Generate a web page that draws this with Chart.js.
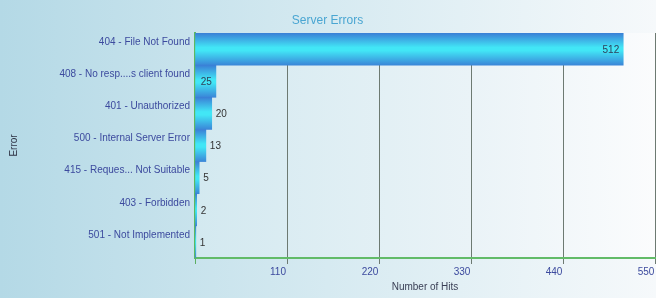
<!DOCTYPE html>
<html>
<head>
<meta charset="utf-8">
<script src="https://cdn.jsdelivr.net/npm/chart.js@4"></script>
<style>
html,body{margin:0;padding:0;background:#fff;}
#wrap{width:656px;height:298px;}
</style>
</head>
<body>
<div id="wrap"><canvas id="c" width="656" height="298"></canvas></div>
<script>
const categories = [
  "404 - File Not Found",
  "408 - No resp....s client found",
  "401 - Unauthorized",
  "500 - Internal Server Error",
  "415 - Reques... Not Suitable",
  "403 - Forbidden",
  "501 - Not Implemented"
];
const hits = [512, 25, 20, 13, 5, 2, 1];
const xTicks = [0, 110, 220, 330, 440, 550];

const FONT = "'Liberation Sans', Arial, sans-serif";

const bgPlugin = {
  id: 'bg',
  beforeDraw(chart) {
    const ctx = chart.ctx, w = chart.width, h = chart.height, a = chart.chartArea;
    ctx.save();
    let g = ctx.createLinearGradient(0, 0, w, 0);
    g.addColorStop(0, '#b4d9e6');
    g.addColorStop(0.5, '#d6eaf1');
    g.addColorStop(1, '#f6f9fb');
    ctx.fillStyle = g;
    ctx.fillRect(0, 0, w, h);
    g = ctx.createLinearGradient(a.left, 0, a.right, 0);
    g.addColorStop(0, '#d3e9f0');
    g.addColorStop(0.6, '#eaf3f7');
    g.addColorStop(1, '#fbfcfd');
    ctx.fillStyle = g;
    ctx.fillRect(a.left, a.top, a.right - a.left, a.bottom - a.top);
    ctx.restore();
  }
};

const labelPlugin = {
  id: 'vals',
  afterDatasetsDraw(chart) {
    const ctx = chart.ctx;
    const meta = chart.getDatasetMeta(0);
    ctx.save();
    ctx.font = '10px ' + FONT;
    ctx.textBaseline = 'middle';
    meta.data.forEach((el, i) => {
      const v = chart.data.datasets[0].data[i];
      if (v >= 25) {
        ctx.textAlign = 'right';
        ctx.fillStyle = '#2f3f5a';
        ctx.fillText(String(v), el.x - 4, el.y + 1);
      } else {
        ctx.textAlign = 'left';
        ctx.fillStyle = '#333';
        ctx.fillText(String(v), el.x + 4, el.y + 1);
      }
    });
    ctx.restore();
  }
};

function barColor(c) {
  const chart = c.chart;
  const ys = chart.scales.y;
  if (!ys || ys.top === undefined || c.dataIndex === undefined) return '#40d8f0';
  const yc = ys.getPixelForValue(c.dataIndex);
  const h = (ys.bottom - ys.top) / categories.length;
  const g = chart.ctx.createLinearGradient(0, yc - h / 2, 0, yc + h / 2);
  g.addColorStop(0, '#3a7fd6');
  g.addColorStop(0.45, '#42e6f6');
  g.addColorStop(0.55, '#42e6f6');
  g.addColorStop(1, '#3a86d8');
  return g;
}

new Chart(document.getElementById('c'), {
  type: 'bar',
  data: {
    labels: categories,
    datasets: [{
      data: hits,
      backgroundColor: barColor,
      borderWidth: 0,
      barPercentage: 1,
      categoryPercentage: 1
    }]
  },
  plugins: [bgPlugin, labelPlugin],
  options: {
    indexAxis: 'y',
    responsive: false,
    animation: false,
    layout: { padding: { left: 0, right: 1, top: 0, bottom: 0 } },
    plugins: {
      legend: { display: false },
      tooltip: { enabled: false },
      title: {
        display: true,
        text: 'Server Errors',
        color: '#4aa6d2',
        font: { family: FONT, size: 12, weight: 'normal' },
        padding: { top: 13, bottom: 5.6 }
      }
    },
    scales: {
      x: {
        type: 'linear',
        min: 0,
        max: 550,
        afterBuildTicks(s) { s.ticks = xTicks.map(v => ({ value: v })); },
        afterFit(s) { s.height = 40; s.paddingLeft = 0; s.paddingRight = 0; },
        ticks: {
          color: '#3c4a9e',
          font: { family: FONT, size: 10 },
          padding: 2,
          maxRotation: 0,
          labelOffset: -9,
          callback: (v) => (v === 0 ? '' : v)
        },
        grid: {
          color: (c) => (c.index === 0 ? 'rgba(0,0,0,0)' : '#6d7a72'),
          lineWidth: 1,
          drawTicks: true,
          tickLength: 6,
          tickColor: (c) => (c.index === 0 ? '#5cae62' : '#6d7a72')
        },
        border: { display: true, color: '#62bb68', width: 2 },
        title: {
          display: true,
          text: 'Number of Hits',
          color: '#3a3f55',
          font: { family: FONT, size: 10 },
          padding: { top: 0, bottom: 5 }
        }
      },
      y: {
        afterFit(s) { s.width = 195; },
        ticks: {
          color: '#3c4a9e',
          font: { family: FONT, size: 10 },
          padding: 5,
          labelOffset: -7
        },
        grid: { display: false, drawTicks: false },
        border: { display: true, color: '#5cb862', width: 2 },
        title: {
          display: true,
          text: 'Error',
          color: '#2f3345',
          font: { family: FONT, size: 10 },
          padding: { top: 8, bottom: 0 }
        }
      }
    }
  }
});
</script>
</body>
</html>
